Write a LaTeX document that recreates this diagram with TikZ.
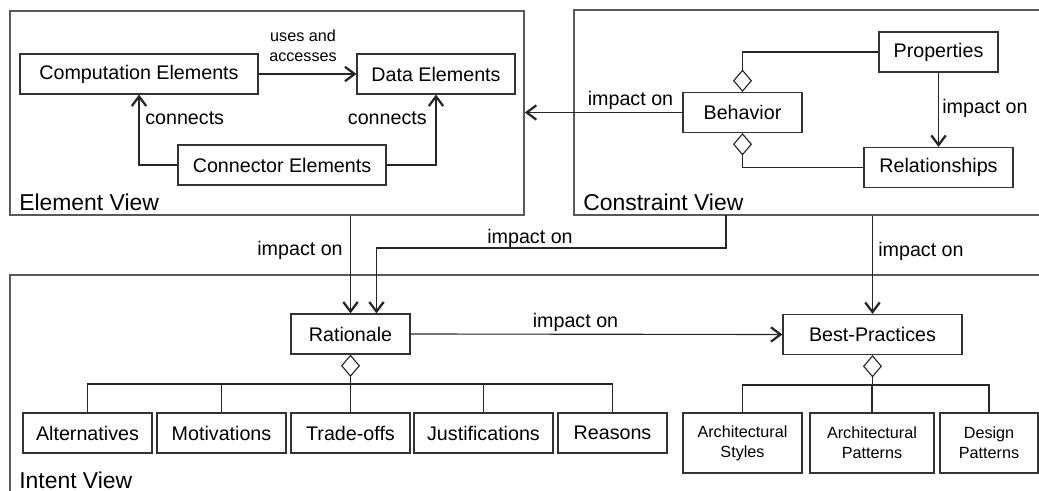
\documentclass[tikz,border=0pt]{standalone}
\usepackage{fontspec}
\setmainfont{Liberation Sans}
\usetikzlibrary{arrows.meta}

\tikzset{
  box/.style={draw=black!80, line width=0.8pt, minimum height=1cm, inner sep=0pt, font=\fontsize{14}{17}\selectfont},
  smallbox/.style={box, minimum height=1.5cm, align=center, font=\fontsize{11.5}{14.2}\selectfont},
  frame/.style={draw=black!65, line width=1.1pt, inner sep=0pt},
  viewlbl/.style={font=\fontsize{16.3}{19}\selectfont, anchor=base west, inner sep=0pt},
  lbl/.style={font=\fontsize{14}{17}\selectfont, inner sep=0pt},
  link/.style={draw=black!85, line width=0.8pt},
  imp/.style={link, -{Straight Barb[length=2.4mm,width=3.6mm,line width=1.6pt]}},
  aggr/.style={link, {Diamond[open,length=5.6mm,width=4.75mm,line width=0.8pt]}-},
}

\begin{document}
\begin{tikzpicture}[x=0.025cm,y=-0.025cm]
\useasboundingbox (0,0) rectangle (1039,491);
\clip (0,0) rectangle (1039,491);

% the three views
\node [frame, minimum width=12.85cm, minimum height=5.1cm] (ev) at (267,113) {};
\node [frame, minimum width=12.15cm, minimum height=5.125cm] (cv) at (817,112.5) {};
\node [frame, minimum width=26.25cm, minimum height=6.125cm] (iv) at (535,397.5) {};
\node [viewlbl] (evlbl) at (19,211) {Element View};
\node [viewlbl] (cvlbl) at (583,211) {Constraint View};
\node [viewlbl] (ivlbl) at (19,488) {Intent View};

% element view
\node [box, minimum width=5.95cm] (comp) at (139,74) {Computation Elements};
\node [box, minimum width=3.95cm] (data) at (436,74) {Data Elements};
\node [box, minimum width=5.2cm] (conn) at (282,165) {Connector Elements};
\draw [imp] (comp.east) -- (data.west);
\node [lbl, align=center, font=\fontsize{11.5}{14.2}\selectfont] (uses) at (303,46) {uses and\\accesses};
\draw [imp] (conn.west) -| (comp.south);
\draw [imp] (conn.east) -| (data.south);
\node [lbl, anchor=west] (con1) at (145,118) {connects};
\node [lbl, anchor=east] (con2) at (427,118) {connects};

% constraint view
\node [box, minimum width=2.975cm] (prop) at (938.5,52) {Properties};
\node [box, minimum width=2.975cm] (behav) at (742.5,112.5) {Behavior};
\node [box, minimum width=3.725cm] (rel) at (938.5,167.5) {Relationships};
\draw [aggr] (behav.north) |- (prop.west);
\draw [aggr] (behav.south) |- (rel.west);
\draw [imp] (prop.south) -- (rel.north);
\node [lbl, anchor=west] (imp1) at (942,108) {impact on};
\draw [imp] (behav.west) -- (behav.west -| ev.east);
\node [lbl] (imp2) at (630.5,100) {impact on};

% intent view
\node [box, minimum width=2.975cm] (rat) at (350.5,334) {Rationale};
\node [box, minimum width=4.475cm] (best) at (872.5,334.5) {Best-Practices};
\draw [imp] (rat.east) -- (best.west);
\node [lbl] (imp3) at (575.5,322) {impact on};

\node [box, minimum width=3.225cm] (alt) at (87.5,433) {Alternatives};
\node [box, minimum width=3.225cm] (mot) at (221.5,433) {Motivations};
\node [box, minimum width=2.975cm] (tra) at (350.5,433) {Trade-offs};
\node [box, minimum width=3.475cm] (jus) at (483.5,433) {Justifications};
\node [box, minimum width=2.725cm] (rea) at (612.5,433) {Reasons};
\coordinate (ratbar) at (350.5,384);
\draw [aggr] (rat.south) -- (ratbar);
\foreach \c in {alt,mot,tra,jus,rea}
  \draw [link] (ratbar) -| (\c.north);

\node [smallbox, minimum width=2.975cm] (arst) at (742.5,443) {Architectural\\Styles};
\node [smallbox, minimum width=3.1cm] (arpa) at (872,443) {Architectural\\Patterns};
\node [smallbox, minimum width=2.45cm] (depa) at (989,443) {Design\\Patterns};
\coordinate (bestbar) at (872.5,385);
\draw [aggr] (best.south) -- (bestbar);
\foreach \c in {arst,arpa,depa}
  \draw [link] (bestbar) -| (\c.north);

% between the views
\draw [imp] (ev.south -| rat.north) -- (rat.north);
\node [lbl, anchor=east] (imp4) at (343,250) {impact on};
\coordinate (cvrat) at (726,215);
\draw [imp] (cvrat) -- ++(0,33) -| ([xshift=0.65cm]rat.north);
\node [lbl] (imp5) at (530,238) {impact on};
\draw [imp] (cv.south -| best.north) -- (best.north);
\node [lbl, anchor=west] (imp6) at (878,251) {impact on};

\end{tikzpicture}
\end{document}
